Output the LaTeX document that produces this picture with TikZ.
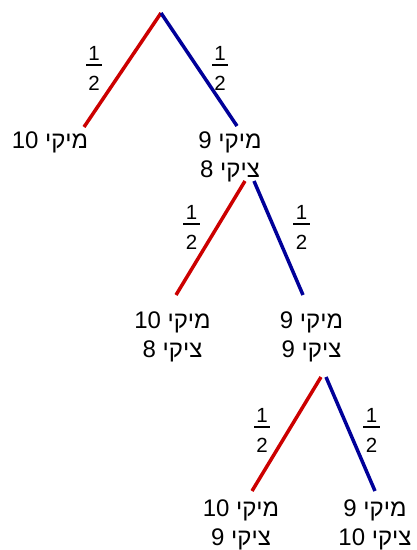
\documentclass[tikz,border=0pt]{standalone}
\usepackage{fontspec}
\setmainfont{Liberation Sans}
\newfontfamily\hebfont[Script=Hebrew]{Liberation Sans}
\TeXXeTstate=1
\usepackage{tikz}
\usetikzlibrary{positioning}
\definecolor{brred}{HTML}{CC0000}
\definecolor{brblue}{HTML}{000099}
\newcommand{\rtl}[1]{\beginR #1\endR}

\begin{document}
\begin{tikzpicture}[x=1pt, y=-1pt,
  leaf/.style={anchor=north, inner sep=0pt, align=center, font=\hebfont\fontsize{24}{28.5}\selectfont},
  fraclab/.style={inner sep=0pt, font=\fontsize{20.5}{22}\selectfont},
  half/.style={fill=black, inner sep=0pt, minimum width=16.5pt, minimum height=1.1pt,
    label={[fraclab, label distance=4pt]above:1}, label={[fraclab, label distance=10pt]below:2}},
  redbr/.style={draw=brred, line width=3.5pt},
  bluebr/.style={draw=brblue, line width=3.5pt}]
  \useasboundingbox (0,0) rectangle (416,550);
  \coordinate (root) at (161,13);
  % outcomes
  \node[leaf] (mk10) at (50,132) {\rtl{מיקי 10}};
  \node[leaf] (mk9zk8) at (230,132) {\rtl{מיקי 9}\\\rtl{ציקי 8}};
  \node[leaf] (mk10zk8) at (172.5,312) {\rtl{מיקי 10}\\\rtl{ציקי 8}};
  \node[leaf] (mk9zk9) at (311.5,312) {\rtl{מיקי 9}\\\rtl{ציקי 9}};
  \node[leaf] (mk10zk9) at (241,500) {\rtl{מיקי 10}\\\rtl{ציקי 9}};
  \node[leaf] (mk9zk10) at (375,500) {\rtl{מיקי 9}\\\rtl{ציקי 10}};
  % branches
  \draw[redbr] (root) -- ([shift={(34,-5)}]mk10.north);
  \draw[bluebr] (root) -- ([shift={(7,-6)}]mk9zk8.north);
  \draw[redbr] ([shift={(15,49)}]mk9zk8.north) -- ([shift={(3.5,-17)}]mk10zk8.north);
  \draw[bluebr] ([shift={(24,49)}]mk9zk8.north) -- ([shift={(-8.5,-17)}]mk9zk9.north);
  \draw[redbr] ([shift={(9.5,65)}]mk9zk9.north) -- ([shift={(11,-9)}]mk10zk9.north);
  \draw[bluebr] ([shift={(14.5,65)}]mk9zk9.north) -- ([shift={(0,-9)}]mk9zk10.north);
  % probabilities
  \node[half] (p1) at (94,65) {};
  \node[half] (p2) at (220,65) {};
  \node[half] (p3) at (191.5,224) {};
  \node[half] (p4) at (301.5,224) {};
  \node[half] (p5) at (262,427) {};
  \node[half] (p6) at (371.5,427) {};
\end{tikzpicture}
\end{document}
